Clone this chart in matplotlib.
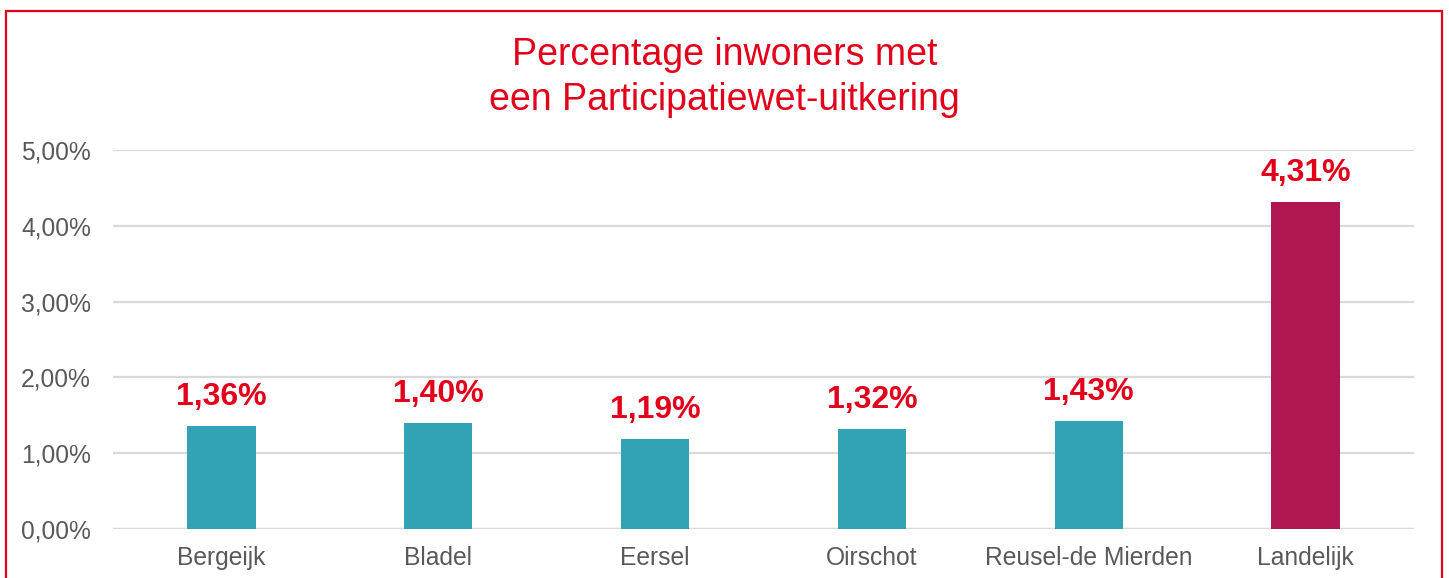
import matplotlib.pyplot as plt
from matplotlib.patches import Rectangle
from matplotlib.ticker import FuncFormatter

plt.rcParams['font.family'] = ['Liberation Sans', 'DejaVu Sans']

# --- data ---
gemeenten = ["Bergeijk", "Bladel", "Eersel", "Oirschot", "Reusel-de Mierden", "Landelijk"]
percentages = [1.36, 1.40, 1.19, 1.32, 1.43, 4.31]
bar_colors = ["#31A3B5"] * 5 + ["#B01750"]

RED = "#E2001A"
GREY = "#595959"

fig = plt.figure(figsize=(14.49, 5.78), dpi=100)
ax = fig.add_axes([113 / 1449, 1 - 529 / 578, (1414 - 113) / 1449, (529 - 150) / 578])

x = range(len(gemeenten))
bars = ax.bar(x, percentages, width=0.315, color=bar_colors, zorder=3)

for xi, v in zip(x, percentages):
    ax.annotate(f"{v:.2f}%".replace(".", ","), xy=(xi, v), xytext=(0, 10),
                textcoords="offset points", ha="center", va="bottom",
                color=RED, fontsize=23, fontweight="bold")

ax.set_xlim(-0.5, len(gemeenten) - 0.5)
ax.set_ylim(0, 5)
ax.set_yticks([0, 1, 2, 3, 4, 5])
ax.yaxis.set_major_formatter(FuncFormatter(lambda v, _: f"{v:.2f}%".replace(".", ",")))
ax.set_xticks(list(x))
ax.set_xticklabels(gemeenten)
ax.tick_params(axis="both", length=0, labelsize=17.7, colors=GREY)
ax.tick_params(axis="x", pad=12)
ax.tick_params(axis="y", pad=16)
ax.grid(axis="y", color="#D9D9D9", lw=1.6, zorder=0)
ax.set_axisbelow(True)
for s in ax.spines.values():
    s.set_visible(False)
ax.axhline(0, color="#D9D9D9", lw=1.6, zorder=1)

fig.text(0.5, 1 - 55 / 578, "Percentage inwoners met", ha="center", va="center",
         color=RED, fontsize=27)
fig.text(0.5, 1 - 100 / 578, "een Participatiewet-uitkering", ha="center", va="center",
         color=RED, fontsize=27)

# red frame around the chart (bottom cut off as in the source)
fig.patches.append(Rectangle((6 / 1449, -0.05), (1442 - 6) / 1449, 1.05 - 11 / 578,
                             transform=fig.transFigure, fill=False,
                             edgecolor=RED, lw=1.6))

fig.savefig("out.png", dpi=100)
